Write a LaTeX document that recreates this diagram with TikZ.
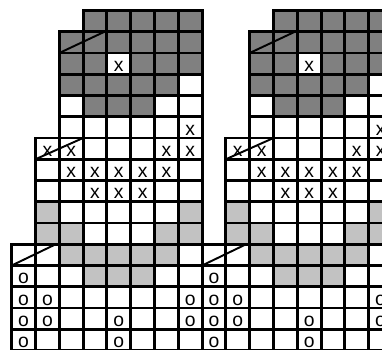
\documentclass[tikz,border=0pt]{standalone}
\usepackage{fontspec}
\setsansfont{Liberation Sans}
\definecolor{darkstitch}{gray}{0.5}
\definecolor{lightstitch}{gray}{0.76}
\tikzset{
  cellbox/.style={draw, line width=1.7pt},
  knit/.style={font=\sffamily\fontsize{11}{11}\selectfont, inner sep=0pt, yshift=-1.5pt},
  slant/.style={line width=1.1pt},
}

\begin{document}
\begin{tikzpicture}[x=0.476cm, y=-0.425cm]
  \useasboundingbox (-0.4916,-0.494) rectangle (15.559,15.976);
  \clip (-0.4916,-0.494) rectangle (15.559,15.976);
  % two repeats of the 8-stitch motif
  \foreach \k in {0,8}{
    % dark contrast band
    \foreach \r/\cols in {0/{3,...,7}, 1/{2,...,7}, 2/{2,3,5,6,7}, 3/{2,...,6}, 4/{3,4,5}}
      \foreach \c in \cols \fill[darkstitch] (\k+\c,\r) rectangle ++(1,1);
    % light contrast band
    \foreach \r/\cols in {9/{1,7}, 10/{1,2,6,7}, 11/{2,...,6}, 12/{3,4,5}}
      \foreach \c in \cols \fill[lightstitch] (\k+\c,\r) rectangle ++(1,1);
    % stepped grid
    \foreach \r/\f in {0/3,1/2,2/2,3/2,4/2,5/2,6/1,7/1,8/1,9/1,10/1,11/0,12/0,13/0,14/0,15/0}
      \foreach \c in {\f,...,7} \draw[cellbox] (\k+\c,\r) rectangle ++(1,1);
    % x stitches
    \foreach \r/\cols in {2/{4}, 5/{7}, 6/{1,2,6,7}, 7/{2,...,6}, 8/{3,4,5}}
      \foreach \c in \cols \node[knit] (x\k-\r-\c) at (\k+\c+0.5,\r+0.5) {x};
    % o stitches
    \foreach \r/\cols in {12/{0}, 13/{0,1,7}, 14/{0,1,4,7}, 15/{0,4}}
      \foreach \c in \cols \node[knit] (o\k-\r-\c) at (\k+\c+0.5,\r+0.5) {o};
    % shaping lines at each step
    \draw[slant] (\k+2,2) -- (\k+3.9,1);
    \draw[slant] (\k+1,7) -- (\k+3,6);
    \draw[slant] (\k+0,12) -- (\k+1.85,11);
  }
\end{tikzpicture}
\end{document}
